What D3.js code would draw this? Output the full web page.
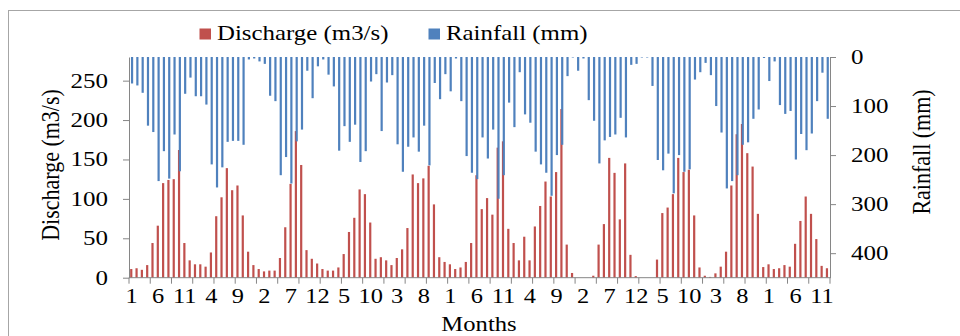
<!DOCTYPE html>
<html>
<head>
<meta charset="utf-8">
<script src="https://cdn.jsdelivr.net/npm/d3@7"></script>
<style>
  body { margin: 0; background: #fff; }
  svg { display: block; }
  text { font-family: "Liberation Serif", "Times New Roman", serif; fill: #000; }
</style>
</head>
<body>
<svg id="chart" width="960" height="336"></svg>
<script>
// month numbers of each year, 11 years of monthly records
const MONTHS = [1, 2, 3, 4, 5, 6, 7, 8, 9, 10, 11, 12];
const YEARS = 11;

// discharge (m3/s), one row per year
const discharge = [
	11, 12, 10, 16, 44, 66, 120, 124, 125, 162, 44, 22,
	17, 17, 14, 32, 78, 102, 139, 111, 117, 79, 33, 16,
	11, 8, 9, 9, 25, 64, 119, 186, 143, 35, 24, 18,
	11, 9, 9, 13, 30, 58, 76, 112, 106, 70, 24, 26,
	22, 16, 25, 36, 63, 131, 120, 126, 142, 93, 26, 20,
	17, 11, 13, 20, 44, 130, 87, 101, 80, 165, 173, 62,
	44, 22, 52, 22, 65, 91, 122, 103, 134, 214, 42, 6,
	0, 0, 0, 2.5, 42, 68, 152, 133, 74, 145, 29, 2,
	0, 0, 0, 23, 82, 89, 106, 152, 134, 137, 79, 13,
	2.5, 1, 5.5, 14, 33, 117, 182, 195, 158, 141, 81, 13.5,
	17, 11, 12, 16, 14, 43, 72, 103, 81, 49, 15, 12
];

// rainfall (mm), one row per year
const rainfall = [
	54, 58, 73, 140, 153, 253, 192, 248, 158, 233, 75, 42,
	80, 80, 97, 219, 266, 225, 173, 171, 171, 179, 5, 3,
	9, 14, 79, 90, 241, 204, 258, 172, 148, 28, 84, 19,
	5, 36, 60, 191, 141, 173, 138, 214, 192, 50, 35, 151,
	52, 37, 178, 234, 183, 164, 193, 140, 221, 53, 86, 35,
	70, 3, 90, 202, 236, 249, 164, 207, 148, 289, 241, 93,
	143, 31, 117, 134, 193, 219, 236, 283, 200, 179, 39, 1,
	28, 3, 88, 130, 217, 170, 163, 158, 124, 164, 16, 14,
	1, 1, 59, 210, 231, 197, 278, 200, 234, 229, 46, 31,
	12, 37, 100, 154, 268, 253, 241, 179, 174, 126, 107, 2,
	49, 9, 98, 116, 110, 209, 157, 190, 156, 90, 32, 126
];

const dischargeTicks = [0, 50, 100, 150, 200, 250];
const rainfallTicks = [0, 100, 200, 300, 400];
const LABEL_EVERY = 5;
const TICK_EVERY = 4;

const PL = 129, PR = 830, PT = 57, PB = 277.7;
const RED = '#C0504D', BLUE = '#4F81BD', AXIS = '#868686';
const BAR = 2.2;

const categories = d3.range(YEARS).flatMap((y) => MONTHS.map((m) => ({ year: y, month: m })));

const svg = d3.select('#chart');

// outer chart border
svg.append('rect')
	.attr('x', 8.5).attr('y', 10.5)
	.attr('width', 960).attr('height', 340)
	.attr('fill', 'none').attr('stroke', '#a6a6a6');

const x = d3.scaleBand().domain(d3.range(categories.length)).range([PL, PR]);
const yL = d3.scaleLinear().domain([0, 280]).range([PB, PT]);
const yR = d3.scaleLinear().domain([0, 450]).range([PT, PB]);
const cx = (i) => x(i) + x.bandwidth() / 2;

// discharge bars rise from the bottom
svg.append('g')
	.selectAll('rect')
	.data(discharge)
	.join('rect')
	.attr('x', (d, i) => cx(i) - BAR / 2 - 0.4)
	.attr('y', (d) => yL(d))
	.attr('width', BAR)
	.attr('height', (d) => PB - yL(d))
	.attr('fill', RED);

// rainfall bars hang from the top (reversed secondary axis)
svg.append('g')
	.selectAll('rect')
	.data(rainfall)
	.join('rect')
	.attr('x', (d, i) => cx(i) - BAR / 2 + 0.4)
	.attr('y', PT)
	.attr('width', BAR)
	.attr('height', (d) => yR(d) - PT)
	.attr('fill', BLUE);

// left axis
const SX = 1.25;
const gL = svg.append('g')
	.attr('transform', `translate(${PL},0)`)
	.call(d3.axisLeft(yL).tickValues(dischargeTicks).tickSize(6).tickSizeOuter(0));
gL.selectAll('text')
	.attr('x', -21 / SX)
	.attr('transform', `scale(${SX},1)`)
	.style('font-size', '20px');

// right axis
const gR = svg.append('g')
	.attr('transform', `translate(${PR},0)`)
	.call(d3.axisRight(yR).tickValues(rainfallTicks).tickSize(6).tickSizeOuter(0));
gR.selectAll('text')
	.attr('x', 21 / SX)
	.attr('transform', `scale(${SX},1)`)
	.style('font-size', '20px');

[gL, gR].forEach((g) => {
	g.select('.domain').attr('stroke', AXIS);
	g.selectAll('.tick line').attr('stroke', AXIS);
	g.attr('font-family', null).attr('font-size', null);
});

// bottom axis: ticks every 4 months, labels every 5 months
const gX = svg.append('g');
gX.append('line')
	.attr('x1', PL).attr('x2', PR)
	.attr('y1', PB).attr('y2', PB)
	.attr('stroke', AXIS);
gX.selectAll('line.tk')
	.data(d3.range(0, categories.length + 1, TICK_EVERY))
	.join('line')
	.attr('class', 'tk')
	.attr('x1', (k) => PL + k * x.step())
	.attr('x2', (k) => PL + k * x.step())
	.attr('y1', PB).attr('y2', PB + 6)
	.attr('stroke', AXIS);
gX.selectAll('text')
	.data(d3.range(0, categories.length, LABEL_EVERY))
	.join('text')
	.attr('transform', (i) => `translate(${cx(i)},303) scale(1.22,1)`)
	.attr('text-anchor', 'middle')
	.style('font-size', '20px')
	.text((i) => categories[i].month);

// axis titles
svg.append('text')
	.attr('transform', 'translate(59,165) scale(1.15,1) rotate(-90)')
	.attr('text-anchor', 'middle')
	.style('font-size', '22px')
	.text('Discharge (m3/s)');

svg.append('text')
	.attr('transform', 'translate(930,152) scale(1.15,1) rotate(-90)')
	.attr('text-anchor', 'middle')
	.style('font-size', '22px')
	.text('Rainfall (mm)');

svg.append('text')
	.attr('transform', 'translate(479,331) scale(1.12,1)')
	.attr('text-anchor', 'middle')
	.style('font-size', '22px')
	.text('Months');

// legend
const legend = [
	{ name: 'Discharge (m3/s)', color: RED, x: 199.5 },
	{ name: 'Rainfall (mm)', color: BLUE, x: 428.5 }
];
const lg = svg.append('g')
	.selectAll('g')
	.data(legend)
	.join('g')
	.attr('transform', (d) => `translate(${d.x},0)`);
lg.append('rect')
	.attr('x', 0).attr('y', 28.5)
	.attr('width', 11.5).attr('height', 11)
	.attr('fill', (d) => d.color);
lg.append('text')
	.attr('transform', 'translate(17.5,40) scale(1.13,1)')
	.style('font-size', '22px')
	.text((d) => d.name);
</script>
</body>
</html>
